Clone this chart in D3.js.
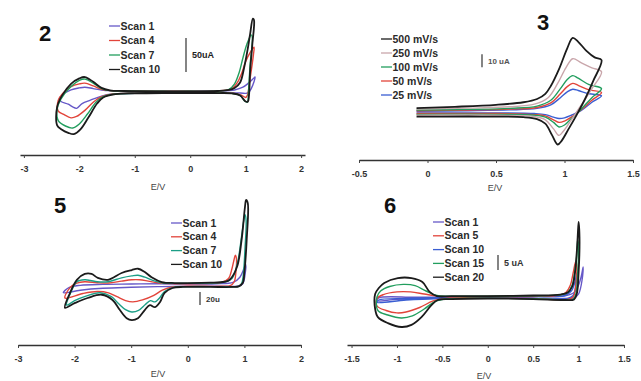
<!DOCTYPE html>
<html><head><meta charset="utf-8">
<script src="https://cdn.jsdelivr.net/npm/d3@7"></script>
<style>
html,body{margin:0;padding:0;background:#fff;}
svg{display:block;font-family:"Liberation Sans",Arial,sans-serif;}
</style></head>
<body>
<svg id="c" width="641" height="381"></svg>
<script>
// ---------- DATA (E in V, I in uA) ----------
// Panel 2
const ticks2 = [-3, -2, -1, 0, 1, 2];
const labels2 = ["Scan 1", "Scan 4", "Scan 7", "Scan 10"];
const p2_scan1 = [[0,1],[0.5,1.5],[0.8,3],[0.95,7],[1.05,13],[1.13,19],[1.17,22],[1.15,15],[1.1,5],[1.05,-1],[1.0,-2],[0.9,-1.5],[0,-1.5],[-1.0,-2],[-1.4,-3],[-1.6,-6],[-1.8,-12],[-1.95,-17],[-2.05,-24],[-2.12,-22],[-2.2,-18],[-2.33,-14],[-2.36,-10],[-2.3,-4],[-2.15,3],[-2.0,6],[-1.9,7],[-1.75,5],[-1.6,3],[-1.45,2],[-1.0,1.5],[0,1]];
const p2_scan4 = [[0,1],[0.5,1.5],[0.75,5],[0.85,14],[0.93,28],[1.0,45],[1.08,58],[1.15,66],[1.14,55],[1.08,20],[1.03,-5],[1.0,-8],[0.93,-5],[0.8,-2],[0,-1.5],[-1.0,-2],[-1.4,-3],[-1.6,-7],[-1.75,-15],[-1.9,-27],[-2.05,-36],[-2.15,-38],[-2.28,-33],[-2.38,-28],[-2.38,-12],[-2.3,-2],[-2.15,8],[-2.0,12],[-1.9,13],[-1.75,9],[-1.6,4],[-1.45,2],[-1.0,1.5],[0,1]];
const p2_scan7 = [[0,1],[0.5,1.5],[0.7,4],[0.8,12],[0.88,28],[0.95,50],[1.02,70],[1.1,84],[1.12,80],[1.08,40],[1.05,0],[1.03,-15],[0.98,-13],[0.9,-5],[0.75,-2],[0.5,-1.5],[0,-1.5],[-1.0,-2],[-1.35,-3],[-1.57,-7],[-1.7,-15],[-1.85,-32],[-2.0,-47],[-2.12,-53],[-2.25,-50],[-2.38,-42],[-2.4,-25],[-2.33,-10],[-2.15,8],[-2.0,17],[-1.9,19],[-1.75,13],[-1.6,5],[-1.45,2],[-1.2,1.5],[-0.5,1],[0,1]];
const p2_scan10 = [[0,1],[0.5,1.5],[0.7,3],[0.8,6],[0.9,14],[0.97,35],[1.03,60],[1.08,85],[1.13,108],[1.15,106],[1.12,70],[1.08,30],[1.06,-5],[1.04,-14],[1.0,-14],[0.9,-5],[0.75,-2],[0.5,-1.5],[0,-1.5],[-0.5,-1.5],[-1.0,-2],[-1.35,-3],[-1.57,-8],[-1.68,-17],[-1.84,-38],[-1.98,-55],[-2.1,-62],[-2.2,-60],[-2.32,-55],[-2.4,-49],[-2.4,-22],[-2.31,-5],[-2.15,12],[-2.0,20],[-1.9,22],[-1.75,15],[-1.6,6],[-1.45,2.5],[-1.2,1.5],[-0.5,1],[0,1]];

// Panel 3
const ticks3 = [-0.5, 0, 0.5, 1, 1.5];
const labels3 = ["500 mV/s", "250 mV/s", "100 mV/s", "50 mV/s", "25 mV/s"];
const p3_500 = [[-0.08,3],[0.2,4],[0.5,5.5],[0.7,7.5],[0.8,10],[0.86,14],[0.9,20],[0.96,33],[1.02,49],[1.06,57],[1.1,54],[1.16,47],[1.22,42],[1.27,40],[1.21,24],[1.15,10],[1.09,-2],[1.03,-13],[0.98,-22],[0.95,-25],[0.91,-18],[0.86,-9],[0.8,-5.5],[0.7,-4],[0.4,-3.5],[0.1,-3.5],[-0.08,-3.5]];
const p3_250 = [[-0.08,2.2],[0.3,3],[0.6,4],[0.78,6],[0.88,11],[0.95,22],[1.01,34],[1.06,41],[1.12,38],[1.2,34],[1.27,31],[1.2,18],[1.12,5],[1.05,-6],[0.99,-15],[0.96,-18],[0.92,-13],[0.86,-6],[0.78,-3.5],[0.5,-2.5],[-0.08,-2.5]];
const p3_100 = [[-0.08,1.5],[0.3,2],[0.6,2.8],[0.8,4.5],[0.9,9],[0.97,18],[1.02,25],[1.06,28],[1.1,26],[1.18,21],[1.27,18],[1.2,11],[1.12,2],[1.05,-5],[1.0,-10],[0.96,-11.5],[0.92,-8],[0.86,-4],[0.78,-2.5],[0.5,-1.8],[-0.08,-1.8]];
const p3_50 = [[-0.08,1],[0.3,1.5],[0.6,2.2],[0.8,3.5],[0.9,7],[0.97,14],[1.02,19.5],[1.06,22],[1.1,20.5],[1.18,17],[1.27,15],[1.2,9],[1.12,1.5],[1.05,-4],[1.0,-7],[0.96,-8],[0.92,-6],[0.86,-3],[0.78,-2],[0.5,-1.2],[-0.08,-1.2]];
const p3_25 = [[-0.08,0.6],[0.3,1],[0.6,1.6],[0.8,2.8],[0.9,5.5],[0.97,11],[1.02,15.5],[1.06,17.5],[1.1,16.5],[1.18,14],[1.27,12.5],[1.2,7.5],[1.12,1],[1.05,-2.5],[1.0,-4.5],[0.96,-5],[0.92,-4],[0.86,-2],[0.78,-1.2],[0.5,-0.7],[-0.08,-0.7]];

// Panel 5
const ticks5 = [-3, -2, -1, 0, 1, 2];
const labels5 = ["Scan 1", "Scan 4", "Scan 7", "Scan 10"];
const p5_scan1 = [[0,1.5],[0.5,2],[0.8,4],[0.92,12],[0.99,25],[1.02,32],[1.01,15],[0.97,2],[0.9,-1.5],[0.5,-2],[0,-2],[-0.5,-2.5],[-1.0,-3.5],[-1.5,-5],[-1.9,-8],[-2.2,-12],[-2.1,-4],[-1.9,-0.5],[-1.5,1],[-1.0,1.5],[-0.5,2],[0,1.5]];
const p5_scan4 = [[0,2],[0.4,2.5],[0.6,4],[0.72,10],[0.78,25],[0.82,40],[0.84,46],[0.86,40],[0.85,20],[0.82,5],[0.75,-1],[0.6,-2],[0,-2],[-0.27,-3],[-0.45,-8],[-0.6,-16],[-0.8,-23],[-0.97,-26],[-1.1,-24],[-1.25,-18],[-1.4,-12],[-1.6,-10],[-1.85,-13],[-2.17,-20],[-2.08,-4],[-1.96,3],[-1.82,5],[-1.6,3.5],[-1.4,3],[-1.17,6],[-0.99,8],[-0.85,8],[-0.7,6],[-0.5,3],[-0.23,2],[0,2]];
const p5_scan7 = [[0,2.5],[0.4,3],[0.65,4.5],[0.78,10],[0.88,35],[0.95,75],[0.99,100],[1.01,108],[1.03,100],[1.01,55],[0.98,15],[0.95,2],[0.9,-2],[0.7,-2.5],[0,-2.5],[-0.27,-4],[-0.41,-10],[-0.5,-20],[-0.58,-26],[-0.66,-24],[-0.75,-30],[-0.87,-39],[-0.99,-41.5],[-1.1,-38],[-1.22,-29],[-1.35,-18],[-1.55,-12],[-1.8,-17],[-2.0,-24],[-2.14,-31],[-2.06,-10],[-1.96,5],[-1.82,8],[-1.72,7],[-1.6,5],[-1.41,5],[-1.17,11],[-0.99,14],[-0.88,15],[-0.76,12],[-0.62,7],[-0.46,3.5],[-0.23,2.5],[0,2.5]];
const p5_scan10 = [[0,3],[0.4,3.5],[0.65,5],[0.74,8],[0.87,28],[0.95,69],[1.01,120],[1.03,131],[1.06,126],[1.04,69],[1.0,20],[0.97,3],[0.9,-2],[0.8,-3],[0.4,-3],[0,-3],[-0.09,-3],[-0.27,-4.6],[-0.41,-12],[-0.49,-26],[-0.58,-34],[-0.67,-31],[-0.76,-38.5],[-0.88,-51],[-0.99,-54],[-1.08,-51],[-1.2,-38.5],[-1.33,-23],[-1.52,-15],[-1.77,-20],[-2.0,-28],[-2.17,-35],[-2.08,-12],[-1.96,8],[-1.82,17],[-1.7,17],[-1.59,11],[-1.41,8],[-1.17,18.5],[-0.99,23],[-0.88,25],[-0.76,20],[-0.64,12],[-0.46,4.6],[-0.23,3],[0,3]];

// Panel 6
const ticks6 = [-1.5, -1, -0.5, 0, 0.5, 1, 1.5];
const labels6 = ["Scan 1", "Scan 5", "Scan 10", "Scan 15", "Scan 20"];
const p6_scan1 = [[0,0],[0.5,0.1],[0.85,0.4],[0.95,1.5],[1.0,4],[1.03,7],[1.05,10],[1.04,6],[1.0,1],[0.95,-0.3],[0.85,-0.5],[0,-0.4],[-0.5,-0.4],[-1.0,-0.8],[-1.22,-1.2],[-1.2,-0.3],[-0.8,-0.1],[-0.4,0],[0,0]];
const p6_scan5 = [[0,0.2],[0.5,0.3],[0.78,0.6],[0.86,1.5],[0.91,4],[0.94,8],[0.97,12],[0.98,10],[0.97,4],[0.94,0],[0.88,-0.8],[0.5,-0.5],[0,-0.4],[-0.45,-0.5],[-0.6,-1.3],[-0.75,-3.5],[-0.9,-5],[-1.0,-5.3],[-1.12,-4.5],[-1.22,-3],[-1.22,-0.5],[-1.15,0.8],[-1.0,1.7],[-0.85,1.7],[-0.7,1],[-0.55,0.3],[0,0.2]];
const p6_scan10 = [[0,0.1],[0.5,0.2],[0.85,0.5],[0.92,2],[0.96,5],[0.98,8],[0.97,4],[0.94,0.5],[0.88,-0.5],[0.5,-0.4],[0,-0.3],[-0.5,-0.5],[-0.9,-1],[-1.22,-1.8],[-1.2,-1],[-0.9,-0.5],[-0.5,-0.2],[0,0.1]];
const p6_scan15 = [[0,0.3],[0.5,0.4],[0.8,0.7],[0.88,1.5],[0.93,4],[0.96,9],[0.98,14],[0.99,19],[1.0,17],[0.99,8],[0.97,1],[0.94,-0.8],[0.85,-0.9],[0.5,-0.6],[0,-0.4],[-0.45,-0.6],[-0.58,-1.5],[-0.7,-4],[-0.83,-6.3],[-0.95,-7],[-1.1,-6],[-1.21,-4.5],[-1.22,0],[-1.18,2],[-1.08,3.5],[-0.93,4.2],[-0.8,3.8],[-0.68,2],[-0.56,0.5],[-0.4,0.3],[0,0.3]];
const p6_scan20 = [[0,0.3],[0.5,0.5],[0.8,0.8],[0.88,1.5],[0.93,3.5],[0.96,8],[0.98,15],[0.99,20],[1.0,25],[1.01,20],[1.0,8],[0.98,1],[0.95,-0.8],[0.85,-1],[0.5,-0.7],[0,-0.5],[-0.4,-0.7],[-0.55,-1],[-0.62,-2.7],[-0.73,-6.7],[-0.84,-9.3],[-0.95,-10],[-1.1,-8.7],[-1.21,-6.7],[-1.24,-4],[-1.24,1],[-1.2,3],[-1.14,4.7],[-0.99,6.3],[-0.84,6.3],[-0.72,5],[-0.64,1.7],[-0.56,0.3],[-0.4,0.3],[0,0.3]];

// scale-bar values (uA)
const scaleBarValues = [50, 10, 20, 5];
const scaleBarLabels = ["50uA", "10 uA", "20u", "5 uA"];
const panelNumbers = ["2", "3", "5", "6"];

// ---------- LAYOUT ----------
const C = {purple:"#6658c8", red:"#e2443a", green:"#229e5e", black:"#1b1b1b", pink:"#c9a6ab", blue:"#3a5ed2", teal:"#1c9e86"};
const panels = [
  {num:panelNumbers[0], numPos:[45,41], xDom:[-3.07,2.07], xRng:[20,305], axisY:155, ticks:ticks2, evPos:[158,190],
   yZero:92, yPer:0.68, series:[p2_scan1,p2_scan4,p2_scan7,p2_scan10], labels:labels2,
   colors:[C.purple,C.red,C.green,C.black], legX:109, legY:26, legDy:14.5,
   bar:{v:scaleBarValues[0], label:scaleBarLabels[0], x:186, i0:29.4, fs:9, col:"#222"}},
  {num:panelNumbers[1], numPos:[543,30], xDom:[-0.5,1.5], xRng:[359,633], axisY:160, ticks:ticks3, evPos:[495,191],
   yZero:112, yPer:1.3, series:[p3_25,p3_50,p3_100,p3_250,p3_500], labels:labels3, legendOrder:[4,3,2,1,0],
   colors:[C.blue,C.red,C.green,C.pink,C.black], legX:381, legY:39, legDy:14,
   bar:{v:scaleBarValues[1], label:scaleBarLabels[1], x:482, i0:34.5, fs:8, col:"#555"}},
  {num:panelNumbers[2], numPos:[60,213], xDom:[-3,2], xRng:[18,301], axisY:345, ticks:ticks5, evPos:[158,377],
   yZero:285, yPer:0.65, series:[p5_scan1,p5_scan4,p5_scan7,p5_scan10], labels:labels5,
   colors:[C.purple,C.red,C.teal,C.black], legX:171, legY:223, legDy:13.8,
   bar:{v:scaleBarValues[2], label:scaleBarLabels[2], x:200, i0:-30.8, fs:8, col:"#333"}},
  {num:panelNumbers[3], numPos:[390,213], xDom:[-1.55,1.5], xRng:[347,624], axisY:345, ticks:ticks6, evPos:[484,379],
   yZero:297, yPer:3.0, series:[p6_scan1,p6_scan10,p6_scan5,p6_scan15,p6_scan20], labels:labels6, legendOrder:[0,2,1,3,4],
   colors:[C.purple,C.blue,C.red,C.green,C.black], legX:433, legY:222, legDy:13.8,
   bar:{v:scaleBarValues[3], label:scaleBarLabels[3], x:498, i0:9, fs:9, col:"#333"}}
];

const svg = d3.select("#c");
const font = '"Liberation Sans", Arial, sans-serif';

panels.forEach(p => {
  const x = d3.scaleLinear().domain(p.xDom).range(p.xRng);
  const y = d3.scaleLinear().domain([0, 1]).range([p.yZero, p.yZero - p.yPer]);
  const g = svg.append("g");

  // axis
  const ax = d3.axisBottom(x).tickValues(p.ticks).tickSize(3).tickSizeOuter(0).tickPadding(8)
    .tickFormat(d => String(d));
  const axg = g.append("g").attr("transform", `translate(0,${p.axisY})`).call(ax);
  axg.select(".domain").attr("stroke", "#333").attr("stroke-width", 1.5);
  axg.selectAll(".tick line").attr("stroke", "#444").attr("stroke-width", 1);
  axg.selectAll(".tick text").attr("fill", "#333").style("font-family", font)
    .style("font-size", "9px").style("font-weight", "bold");

  g.append("text").attr("x", p.evPos[0]).attr("y", p.evPos[1]).attr("text-anchor", "middle")
    .style("font-family", font).style("font-size", "9px").attr("fill", "#444").text("E/V");

  // curves
  const line = d3.line().x(d => x(d[0])).y(d => y(d[1])).curve(d3.curveCatmullRom.alpha(0.5));
  p.series.forEach((s, i) => {
    g.append("path").attr("d", line(s)).attr("fill", "none")
      .attr("stroke", p.colors[i]).attr("stroke-width", p.colors[i] === C.black ? 1.8 : 1.4)
      .attr("stroke-linejoin", "round");
  });

  // legend
  const order = p.legendOrder || p.labels.map((_, i) => i);
  p.labels.forEach((lab, k) => {
    const ci = order[k];
    const yy = p.legY + k * p.legDy;
    g.append("line").attr("x1", p.legX).attr("x2", p.legX + 11).attr("y1", yy).attr("y2", yy)
      .attr("stroke", p.colors[ci]).attr("stroke-width", 1.3);
    g.append("text").attr("x", p.legX + 11.5).attr("y", yy + 3.6)
      .style("font-family", font).style("font-size", "10.5px").style("font-weight", "bold")
      .attr("fill", "#2a2a2a").text(lab);
  });

  // scale bar
  const b = p.bar;
  const yb0 = y(b.i0), yb1 = y(b.i0 + b.v);
  g.append("line").attr("x1", b.x).attr("x2", b.x).attr("y1", yb0).attr("y2", yb1)
    .attr("stroke", "#333").attr("stroke-width", 1.2);
  g.append("text").attr("x", b.x + 6).attr("y", (yb0 + yb1) / 2 + 3)
    .style("font-family", font).style("font-size", b.fs + "px").style("font-weight", "bold")
    .attr("fill", b.col).text(b.label);

  // panel number
  g.append("text").attr("x", p.numPos[0]).attr("y", p.numPos[1]).attr("text-anchor", "middle")
    .style("font-family", font).style("font-size", "22px").style("font-weight", "bold")
    .attr("fill", "#111").text(p.num);
});
</script>
</body></html>
